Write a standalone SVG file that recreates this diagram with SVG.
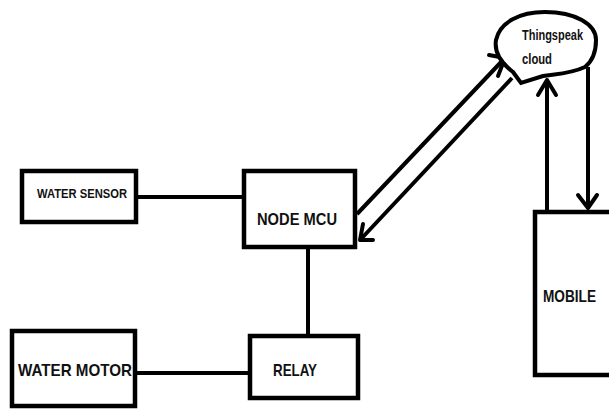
<svg xmlns="http://www.w3.org/2000/svg" width="609" height="410" viewBox="0 0 609 410">
<style>
.box{fill:#fff;stroke:#000;stroke-width:4.5}
.ln{fill:none;stroke:#000;stroke-width:4;stroke-linecap:butt}
.ah{fill:none;stroke:#000;stroke-width:4;stroke-linecap:round;stroke-linejoin:round}
.t{font-family:"Liberation Sans",Arial,sans-serif;font-weight:bold;fill:#111}
</style>
<rect width="609" height="410" fill="#fff"/>
<g id="connectors">
<line class="ln" x1="136" y1="197" x2="244" y2="197"/>
<line class="ln" x1="308" y1="247" x2="308" y2="336"/>
<line class="ln" x1="135" y1="373" x2="250" y2="373"/>
<line class="ln" x1="357" y1="214" x2="504" y2="59"/>
<polyline class="ah" points="489,55 505,58 498,76"/>
<line class="ln" x1="512" y1="78" x2="361" y2="239"/>
<polyline class="ah" points="363,224 360,240 373,240"/>
<line class="ln" x1="547" y1="210" x2="547" y2="81"/>
<polyline class="ah" points="538,95 547,80 556,95"/>
<line class="ln" x1="588" y1="67" x2="588" y2="207"/>
<polyline class="ah" points="578,195 588,208 597,195"/>
<circle cx="134" cy="197" r="2.5"/>
<circle cx="133" cy="373" r="2.5"/>
</g>
<g id="water-sensor">
<rect class="box" x="22" y="171" width="114" height="51"/>
<text class="t" x="37" y="198" font-size="13.5" textLength="90" lengthAdjust="spacingAndGlyphs">WATER SENSOR</text>
</g>
<g id="node-mcu">
<rect class="box" x="244" y="171" width="111" height="76"/>
<text class="t" x="257" y="225" font-size="16" textLength="80" lengthAdjust="spacingAndGlyphs">NODE MCU</text>
</g>
<g id="relay">
<rect class="box" x="250" y="336" width="108" height="62"/>
<text class="t" x="273" y="376" font-size="17" textLength="44" lengthAdjust="spacingAndGlyphs">RELAY</text>
</g>
<g id="water-motor">
<rect class="box" x="12" y="331" width="123" height="75"/>
<text class="t" x="18" y="376" font-size="17" textLength="114" lengthAdjust="spacingAndGlyphs">WATER MOTOR</text>
</g>
<g id="mobile">
<path class="box" d="M609,212 H535 V375 H609"/>
<text class="t" x="543" y="302" font-size="17" textLength="53" lengthAdjust="spacingAndGlyphs">MOBILE</text>
</g>
<g id="thingspeak-cloud">
<path class="box" d="M513,72 C500,62 494,52 496,40 C500,22 520,12 545,12 C575,12 596,24 596,40 C596,56 590,63 585,67 C570,74 555,74 543,76 L521,83 Z" style="stroke-width:4"/>
<text class="t" x="522" y="40" font-size="14" textLength="61" lengthAdjust="spacingAndGlyphs">Thingspeak</text>
<text class="t" x="522" y="64" font-size="14" textLength="30" lengthAdjust="spacingAndGlyphs">cloud</text>
</g>
</svg>
